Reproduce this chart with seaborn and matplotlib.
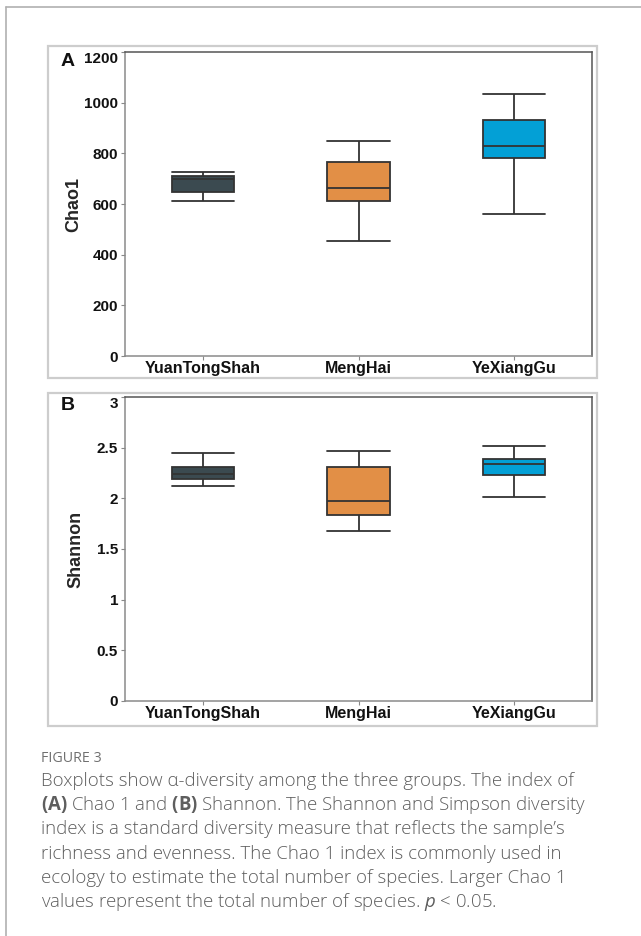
import numpy as np
import pandas as pd
import matplotlib
matplotlib.use("Agg")
import matplotlib.pyplot as plt
import seaborn as sns
from matplotlib.patches import Rectangle
from matplotlib.lines import Line2D

# ── Data (five-number summaries: min, Q1, median, Q3, max)
groups = ["YuanTongShah", "MengHai", "YeXiangGu"]
chao1_yt = [611, 648, 697, 711, 727]
chao1_mh = [455, 611, 665, 767, 849]
chao1_yx = [560, 783, 828, 931, 1034]
shannon_yt = [2.125, 2.19, 2.24, 2.313, 2.448]
shannon_mh = [1.68, 1.84, 1.97, 2.31, 2.468]
shannon_yx = [2.016, 2.234, 2.337, 2.386, 2.518]
chao1_ticks = [0, 200, 400, 600, 800, 1000, 1200]
shannon_ticks = [0, 0.5, 1, 1.5, 2, 2.5, 3]

caption_title = "FIGURE 3"
caption_lines = [
    "Boxplots show α-diversity among the three groups. The index of",
    r"$\mathbf{(A)}$ Chao 1 and $\mathbf{(B)}$ Shannon. The Shannon and Simpson diversity",
    "index is a standard diversity measure that reflects the sample’s",
    "richness and evenness. The Chao 1 index is commonly used in",
    "ecology to estimate the total number of species. Larger Chao 1",
    r"values represent the total number of species. $\mathit{p}$ < 0.05.",
]

BOX_COLORS = ["#3b4a50", "#e28f46", "#03a0d6"]
EDGE = "#333333"

df = pd.DataFrame({
    "group": np.repeat(groups, 5),
    "Chao1": chao1_yt + chao1_mh + chao1_yx,
    "Shannon": shannon_yt + shannon_mh + shannon_yx,
})

sns.set_style("ticks")
plt.rcParams["font.family"] = ["Liberation Sans", "DejaVu Sans"]
plt.rcParams["mathtext.fontset"] = "custom"
plt.rcParams["mathtext.rm"] = "Open Sans"
plt.rcParams["mathtext.bf"] = "Open Sans:bold"
plt.rcParams["mathtext.it"] = "Open Sans:italic"

W, H = 641, 936
fig = plt.figure(figsize=(W / 100, H / 100), dpi=100)
fig.patch.set_facecolor("white")


def fx(px):
    return px / W


def fy(py):
    return 1 - py / H


# page frame (top and left edges)
fig.add_artist(Line2D([fx(6), fx(641)], [fy(7), fy(7)], color="#b0b0b0", lw=1.2))
fig.add_artist(Line2D([fx(6), fx(6)], [fy(7), fy(936)], color="#b0b0b0", lw=1.2))

# panel frames
for top, bottom in [(46, 378), (393, 726)]:
    fig.add_artist(Rectangle((fx(48), fy(bottom)), fx(597) - fx(48), fy(top) - fy(bottom),
                             fill=False, edgecolor="#cdcdcd", lw=1.6))

panels = [
    ("A", "Chao1", chao1_ticks, 52, 356, -0.091),
    ("B", "Shannon", shannon_ticks, 397, 701, -0.086),
]

for letter, col, ticks, top, bottom, ylab_x in panels:
    ax = fig.add_axes([fx(125), fy(bottom), fx(592) - fx(125), fy(top) - fy(bottom)])
    sns.boxplot(data=df, x="group", y=col, hue="group", order=groups, hue_order=groups,
                palette=BOX_COLORS, width=0.4, whis=(0, 100), linecolor=EDGE,
                linewidth=1.3, legend=False, ax=ax, capwidths=0.4,
                saturation=1)
    ax.set_xlim(-0.5, 2.5)
    ax.set_ylim(ticks[0], ticks[-1])
    ax.set_yticks(ticks)
    ax.set_yticklabels([f"{t:g}" for t in ticks])
    ax.set_xlabel("")
    ax.set_ylabel(col, fontsize=13, fontweight="bold")
    ax.yaxis.set_label_coords(ylab_x, 0.5)
    ax.tick_params(axis="both", length=3, width=0.8, color="#888888",
                   labelsize=11, pad=2)
    ax.tick_params(axis="x", labelsize=11.5, pad=0.5)
    for lab in ax.get_xticklabels() + ax.get_yticklabels():
        lab.set_fontweight("bold")
        lab.set_color("#111111")
    # top tick label sits just below the top edge, as in the original
    ax.get_yticklabels()[-1].set_verticalalignment("top")
    for side in ["top", "right"]:
        ax.spines[side].set_visible(True)
        ax.spines[side].set_color("#555555")
        ax.spines[side].set_linewidth(1.1)
    for side in ["left", "bottom"]:
        ax.spines[side].set_color("#8a8a8a")
        ax.spines[side].set_linewidth(1.1)
    fig.text(fx(68), fy(top + 9), letter, fontsize=14, fontweight="bold",
             ha="center", va="center", color="#111111")

# caption
fig.text(fx(41), fy(758), caption_title, fontsize=10.3, color="#707070",
         family="Open Sans", ha="left", va="center")
for i, line in enumerate(caption_lines):
    fig.text(fx(41), fy(781 + i * 24.2), line, fontsize=13.4, color="#5e5e5e",
             family="Open Sans", fontweight="light", ha="left", va="center")

fig.savefig("out.png", dpi=100)
